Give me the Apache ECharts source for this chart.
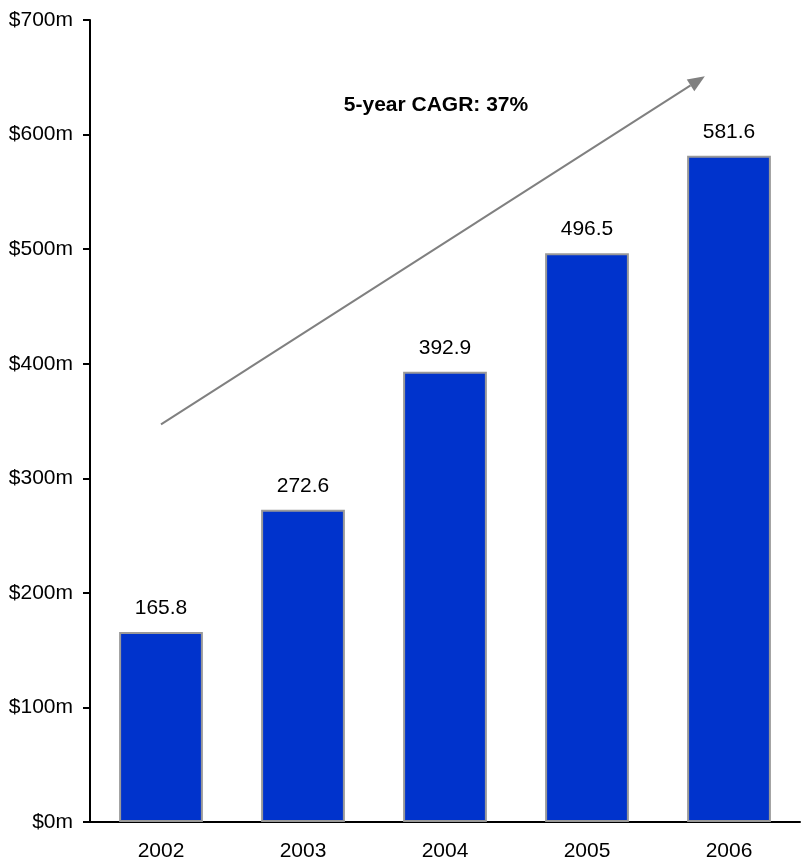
<!DOCTYPE html>
<html>
<head>
<meta charset="utf-8">
<script src="https://cdn.jsdelivr.net/npm/echarts@6/dist/echarts.min.js"></script>
<style>html,body{margin:0;padding:0;background:#fff}#c{width:801px;height:866px}</style>
</head>
<body>
<div id="c"></div>
<script>
const years = ['2002','2003','2004','2005','2006'];
const revenue = [165.8, 272.6, 392.9, 496.5, 581.6];
const yTicks = [0, 100, 200, 300, 400, 500, 600, 700];
const cagrLabel = '5-year CAGR: 37%';
// arrow endpoints in data space: [category index (fractional), value]
const arrowStart = [0, 347];
const arrowEnd = [3.83, 651];

const chart = echarts.init(document.getElementById('c'));
const font = '"Liberation Sans", Arial, sans-serif';
chart.setOption({
  animation: false,
  grid: {left: 90, right: 1, top: 20, bottom: 44},
  xAxis: {
    type: 'category', data: years,
    axisLine: {lineStyle: {color: '#000', width: 2}},
    axisTick: {show: false},
    axisLabel: {color: '#000', fontSize: 21, fontFamily: font, margin: 19}
  },
  yAxis: {
    type: 'value', min: 0, max: 700, interval: 100,
    axisLine: {show: true, lineStyle: {color: '#000', width: 2}},
    axisTick: {show: true, length: 7, lineStyle: {color: '#000', width: 2}},
    splitLine: {show: false},
    axisLabel: {color: '#000', fontSize: 21, fontFamily: font, margin: 17,
      formatter: v => yTicks.includes(v) ? '$' + v + 'm' : ''}
  },
  series: [{
    type: 'bar', data: revenue, barWidth: '59%',
    itemStyle: {color: '#0033CC', borderColor: '#999999', borderWidth: 2},
    label: {show: true, position: 'top', distance: 13, color: '#000', fontSize: 21, fontFamily: font,
      formatter: p => p.value.toFixed(1)}
  }]
});

function toPx(pt) {
  const i0 = Math.floor(pt[0]);
  const i1 = Math.min(i0 + 1, years.length - 1);
  const a = chart.convertToPixel({xAxisIndex: 0}, years[i0]);
  const b = chart.convertToPixel({xAxisIndex: 0}, years[i1]);
  const x = i1 === i0 ? a : a + (b - a) * (pt[0] - i0);
  const y = chart.convertToPixel({yAxisIndex: 0}, pt[1]);
  return [x, y];
}
const p0 = toPx(arrowStart), p1 = toPx(arrowEnd);
const ang = Math.atan2(p1[1] - p0[1], p1[0] - p0[0]);
const hl = 17, hw = 7;
const base = [p1[0] - hl * Math.cos(ang), p1[1] - hl * Math.sin(ang)];
const nx = -Math.sin(ang), ny = Math.cos(ang);
chart.setOption({
  graphic: [
    {type: 'line', shape: {x1: p0[0], y1: p0[1], x2: base[0], y2: base[1]},
      style: {stroke: '#808080', lineWidth: 2}},
    {type: 'polygon', shape: {points: [p1, [base[0] + nx * hw, base[1] + ny * hw], [base[0] - nx * hw, base[1] - ny * hw]]},
      style: {fill: '#808080'}},
    {type: 'text', style: {text: cagrLabel, x: 436, y: 105, align: 'center', verticalAlign: 'middle',
      font: 'bold 21px ' + font, fill: '#000'}}
  ]
});
</script>
</body>
</html>
